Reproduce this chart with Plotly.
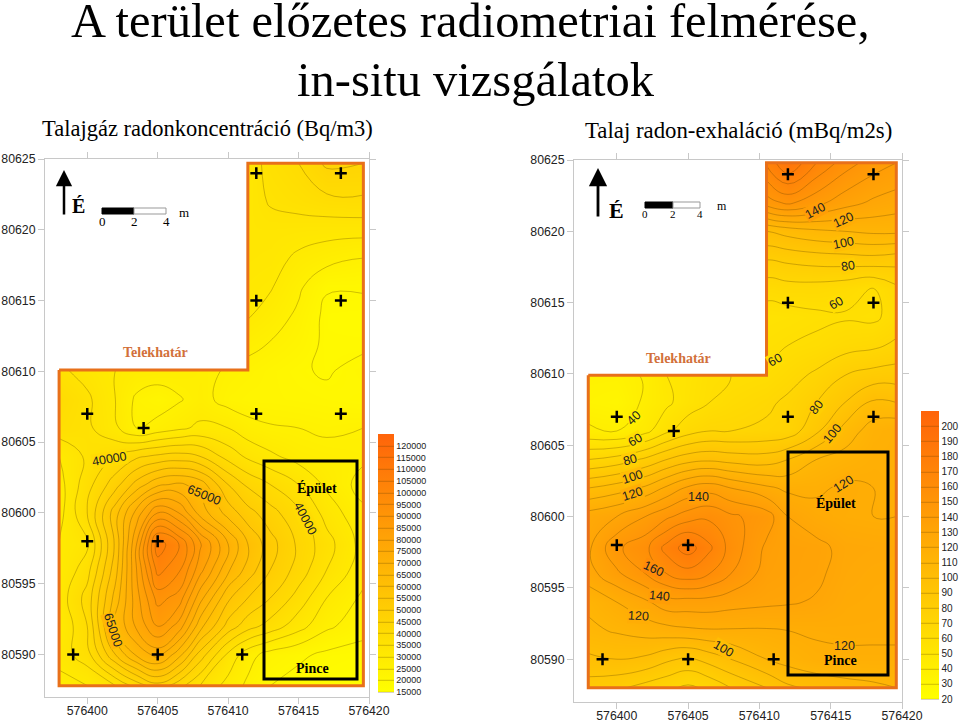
import plotly.graph_objects as go

W = 960
H = 724
nan = None

# --- left map: soil gas radon concentration (Bq/m3)
x1 = [576398, 576400, 576402, 576403.5, 576405, 576406.5, 576408, 576410, 576411.4, 576413, 576415, 576417, 576419.6]
y1 = [80587.8, 80590, 80592, 80594, 80596, 80597.8, 80600, 80602, 80604, 80606, 80608, 80610.1,
      80612, 80614, 80616, 80618, 80620, 80622, 80624.7]
z1 = [
    [28000, 30000, 35000, 42000, 48000, 42000, 35000, 28000, 24000, 20000, 18000, 17000, 16000],
    [32000, 38000, 55000, 66000, 72000, 62000, 48000, 34000, 27000, 23000, 21000, 19000, 18000],
    [30000, 40000, 65000, 76000, 85000, 78000, 62000, 48000, 42000, 38000, 32000, 26000, 22000],
    [32000, 42000, 62000, 78000, 92000, 88000, 72000, 56000, 50000, 45000, 38000, 30000, 24000],
    [30000, 38000, 58000, 80000, 102000, 96000, 82000, 66000, 58000, 50000, 43000, 35000, 27000],
    [30000, 34000, 56000, 80000, 108000, 100000, 86000, 70000, 60000, 52000, 44000, 37000, 28000],
    [28000, 40000, 58000, 72000, 85000, 80000, 68000, 58000, 52000, 47000, 41000, 33000, 26000],
    [28000, 38000, 48000, 57000, 64000, 66000, 63000, 50000, 44000, 40000, 35000, 29000, 23000],
    [30000, 36000, 40000, 44000, 46000, 47000, 45000, 38000, 34000, 31000, 28000, 27000, 26000],
    [38000, 36000, 31000, 25000, 27000, 29000, 31000, 30000, 27000, 25500, 25000, 24000, 25000],
    [40000, 36000, 30000, 24000, 22000, 24500, 27000, 23000, 22000, 22000, 21500, 21000, 20200],
    [36000, 33000, 30000, 28500, 28000, 27500, 26500, 24500, 23500, 22000, 20500, 19500, 21500],
    [nan, nan, nan, nan, nan, nan, nan, nan, 26500, 24800, 22500, 19000, 19000],
    [nan, nan, nan, nan, nan, nan, nan, nan, 30500, 28000, 24000, 18800, 18500],
    [nan, nan, nan, nan, nan, nan, nan, nan, 31500, 30500, 26000, 20500, 20500],
    [nan, nan, nan, nan, nan, nan, nan, nan, 32500, 32000, 29000, 27000, 25000],
    [nan, nan, nan, nan, nan, nan, nan, nan, 33000, 33000, 32500, 32000, 32000],
    [nan, nan, nan, nan, nan, nan, nan, nan, 32500, 35500, 37000, 38500, 39000],
    [nan, nan, nan, nan, nan, nan, nan, nan, 32000, 37000, 40000, 46000, 45000],
]
border1_x = [576398, 576411.4, 576411.4, 576419.6, 576419.6, 576398, 576398]
border1_y = [80610.1, 80610.1, 80624.7, 80624.7, 80587.8, 80587.8, 80610.1]
cutout1_x = [576397, 576411.4, 576411.4, 576397, 576397]
cutout1_y = [80610.1, 80610.1, 80625, 80625, 80610.1]
sites1_x = [576412, 576418, 576412, 576418, 576400, 576404, 576412, 576418, 576400, 576405, 576399, 576405, 576411]
sites1_y = [80624, 80624, 80615, 80615, 80607, 80606, 80607, 80607, 80598, 80598, 80590, 80590, 80590]
# text, x, y, angle
labels1 = [
    (40000, 576401.6, 80603.8, -10),
    (65000, 576408.3, 80601.3, 22),
    (40000, 576415.5, 80599.6, 62),
    (65000, 576401.8, 80591.7, 72),
]

# --- right map: soil radon exhalation (mBq/m2s)
x2 = [576398, 576400, 576402, 576403.5, 576405, 576406.5, 576408, 576410.5, 576412, 576414, 576416, 576418, 576419.6]
y2 = [80588, 80590, 80592, 80594, 80596, 80597.8, 80600, 80602, 80604, 80606, 80608, 80609.9,
      80612, 80614, 80616, 80618, 80620, 80622, 80624.8]
z2 = [
    [85, 82, 76, 72, 68, 72, 80, 90, 98, 102, 106, 108, 110],
    [98, 100, 98, 92, 88, 94, 100, 110, 114, 118, 118, 118, 118],
    [108, 111, 114, 116, 118, 119, 119, 119, 120, 121, 122, 122, 122],
    [112, 120, 128, 136, 136, 136, 134, 132, 131, 129, 124, 123, 122],
    [126, 138, 150, 160, 166, 160, 150, 136, 134, 132, 126, 124, 124],
    [128, 148, 157, 174, 185, 172, 156, 138, 134, 133, 127, 126, 125],
    [125, 130, 140, 148, 155, 158, 152, 145, 130, 124, 121, 120, 120],
    [100, 105, 112, 122, 132, 136, 130, 122, 118, 118, 122, 120, 118],
    [70, 74, 82, 90, 96, 98, 96, 95, 100, 110, 114, 118, 118],
    [42, 40, 47, 58, 66, 70, 70, 72, 74, 88, 104, 115, 118],
    [34, 32, 42, 48, 55, 60, 64, 68, 72, 80, 90, 102, 100],
    [36, 36, 41, 50, 54, 59, 60, 62, 66, 72, 80, 84, 85],
    [nan, nan, nan, nan, nan, nan, nan, 58, 60, 62, 66, 68, 72],
    [nan, nan, nan, nan, nan, nan, nan, 55, 56, 58, 59, 58, 64],
    [nan, nan, nan, nan, nan, nan, nan, 64, 66, 66, 64, 60, 68],
    [nan, nan, nan, nan, nan, nan, nan, 80, 82, 84, 85, 86, 84],
    [nan, nan, nan, nan, nan, nan, nan, 100, 104, 108, 110, 112, 112],
    [nan, nan, nan, nan, nan, nan, nan, 145, 152, 143, 134, 128, 125],
    [nan, nan, nan, nan, nan, nan, nan, 172, 190, 170, 155, 145, 140],
]
border2_x = [576398, 576410.5, 576410.5, 576419.6, 576419.6, 576398, 576398]
border2_y = [80609.9, 80609.9, 80624.8, 80624.8, 80588, 80588, 80609.9]
cutout2_x = [576397, 576410.5, 576410.5, 576397, 576397]
cutout2_y = [80609.9, 80609.9, 80625, 80625, 80609.9]
sites2_x = sites1_x
sites2_y = sites1_y
labels2 = [
    (140, 576413.9, 80621.4, -28),
    (120, 576415.9, 80620.8, -25),
    (100, 576415.9, 80619.2, -12),
    (80, 576416.2, 80617.6, -8),
    (60, 576415.4, 80615, -30),
    (60, 576411.1, 80611, -30),
    (40, 576401.2, 80606.9, -45),
    (60, 576401.3, 80605.4, -30),
    (80, 576400.9, 80604, -15),
    (100, 576401.1, 80602.8, -18),
    (120, 576401.1, 80601.6, -18),
    (140, 576405.7, 80601.4, 0),
    (160, 576402.6, 80596.3, 25),
    (140, 576403, 80594.4, 5),
    (120, 576401.5, 80593, 3),
    (100, 576407.5, 80590.7, 30),
    (120, 576415.9, 80602.3, -32),
    (120, 576416, 80590.9, 0),
    (80, 576414, 80607.7, -50),
    (100, 576415.1, 80605.8, -50),
]

colors = [[0, "#ffff00"], [1, "#ff640a"]]
serif = "Liberation Serif"
sans = "Liberation Sans"


def label_color(v, lo, hi):
    g = 255 - (255 - 100) * (v - lo) / (hi - lo)
    return "rgb(255,%d,%d)" % (g, 10 * (v - lo) / (hi - lo))


def fx(p):
    return p / W


def fy(p):
    return 1 - p / H


def text(s, px, py, size, color="black", bold=False, font=serif):
    if bold:
        s = "<b>" + s + "</b>"
    return dict(text=s, x=fx(px), y=fy(py), xref="paper", yref="paper", showarrow=False,
                xanchor="center", yanchor="middle", font=dict(size=size, color=color, family=font))


def rect(x0, y0, x1_, y1_, fill="rgba(0,0,0,0)", line="black", width=1):
    return dict(type="rect", xref="paper", yref="paper", x0=fx(x0), x1=fx(x1_), y0=fy(y0), y1=fy(y1_),
                fillcolor=fill, line=dict(color=line, width=width))


def contour(x, y, z, xa, ya, lo, hi, step, top, bar_x, bar_y, bar_h, bar_w, ticks, size):
    return go.Contour(
        x=x, y=y, z=z, xaxis=xa, yaxis=ya, colorscale=colors, zmin=lo, zmax=top,
        contours=dict(coloring="heatmap", start=lo, end=hi, size=step),
        line=dict(color="rgba(90,60,0,0.5)", width=0.6, smoothing=1.3),
        hoverongaps=False,
        colorbar=dict(x=fx(bar_x), xanchor="left", y=fy(bar_y), yanchor="top", len=bar_h, lenmode="pixels",
                      thickness=bar_w, thicknessmode="pixels", xpad=0, ypad=0, outlinewidth=0,
                      tickvals=ticks, tickfont=dict(size=size, family=sans, color="#222222"),
                      ticks="", tickformat="d"),
    )


fig = go.Figure()
fig.add_trace(contour(x1, y1, z1, "x", "y", 15000, 120000, 5000, 125000, 378, 434, 258, 16,
                      list(range(15000, 120001, 5000)), 9))
fig.add_trace(contour(x2, y2, z2, "x2", "y2", 20, 200, 10, 210, 921, 411, 288, 18,
                      list(range(20, 201, 10)), 10))

for bx, by, cx, cy, sx, sy, xa, ya in [
    (border1_x, border1_y, cutout1_x, cutout1_y, sites1_x, sites1_y, "x", "y"),
    (border2_x, border2_y, cutout2_x, cutout2_y, sites2_x, sites2_y, "x2", "y2"),
]:
    # the smoothed fill bleeds a little past the notch, so paint it white again
    fig.add_trace(go.Scatter(x=cx, y=cy, xaxis=xa, yaxis=ya, mode="lines", fill="toself", fillcolor="white",
                             hoverinfo="skip", line=dict(color="white", width=0)))
    fig.add_trace(go.Scatter(x=bx, y=by, xaxis=xa, yaxis=ya, mode="lines", hoverinfo="skip",
                             line=dict(color="#e8701a", width=3)))
    fig.add_trace(go.Scatter(x=sx, y=sy, xaxis=xa, yaxis=ya, mode="markers",
                             marker=dict(symbol="cross-thin", size=8.5, line=dict(color="black", width=2.5))))

axis = dict(showgrid=False, zeroline=False, showline=True, linecolor="#c8c8c8", mirror="ticks", ticks="outside",
            ticklen=6, tickcolor="#c8c8c8", tickformat="d", tickfont=dict(family=sans, size=12.3, color="#222222"))

fig.update_layout(
    width=W, height=H, margin=dict(l=0, r=0, t=0, b=0, autoexpand=False), paper_bgcolor="white",
    plot_bgcolor="white", showlegend=False,
    xaxis=dict(axis, domain=[fx(45), fx(369)], range=[576397, 576420], dtick=5, tick0=576400, anchor="y",
               ticklabelstandoff=-4),
    yaxis=dict(axis, domain=[fy(697), fy(159)], range=[80587, 80625], dtick=5, tick0=80590, anchor="x"),
    xaxis2=dict(axis, domain=[fx(574), fx(902)], range=[576397, 576420], dtick=5, tick0=576400, anchor="y2",
                ticklabelstandoff=-4),
    yaxis2=dict(axis, domain=[fy(702), fy(160)], range=[80587, 80625], dtick=5, tick0=80590, anchor="x2"),
)

notes = [
    text("A terület előzetes radiometriai felmérése,", 470, 20, 48.5),
    text("in-situ vizsgálatok", 476, 80, 48.5),
    text("Talajgáz radonkoncentráció (Bq/m3)", 207, 128, 22.5),
    text("Talaj radon-exhaláció (mBq/m2s)", 738, 130, 22.8),
    text("Telekhatár", 155, 352, 14, "#d2703a", True),
    text("Telekhatár", 678, 358, 14, "#d2703a", True),
    text("Épület", 317, 488, 14, bold=True),
    text("Pince", 312, 668, 14, bold=True),
    text("Épület", 836, 503, 14, bold=True),
    text("Pince", 840, 660, 14, bold=True),
    text("É", 78, 206, 20, bold=True),
    text("É", 616, 210, 22, bold=True),
    text("0", 102, 222, 13), text("2", 134, 222, 13), text("4", 166, 222, 13), text("m", 184, 212, 13),
    text("0", 645, 214, 11), text("2", 673, 214, 11), text("4", 700, 214, 11), text("m", 722, 206, 12),
    dict(x=fx(64), y=fy(170), ax=0, ay=46, xref="paper", yref="paper",
         text="", showarrow=True, arrowhead=2, arrowsize=1.3, arrowwidth=2.5, arrowcolor="black"),
    dict(x=fx(598), y=fy(168), ax=0, ay=50, xref="paper", yref="paper",
         text="", showarrow=True, arrowhead=2, arrowsize=1.3, arrowwidth=2.8, arrowcolor="black"),
]
for v, x, y, a in labels1:
    notes.append(dict(text=str(v), x=x, y=y, xref="x", yref="y", showarrow=False, textangle=a, borderpad=0,
                      bgcolor=label_color(v, 15000, 125000), font=dict(size=12.5, family=sans, color="#222222")))
for v, x, y, a in labels2:
    notes.append(dict(text=str(v), x=x, y=y, xref="x2", yref="y2", showarrow=False, textangle=a, borderpad=0,
                      bgcolor=label_color(v, 20, 210), font=dict(size=12.5, family=sans, color="#222222")))
fig.update_layout(annotations=notes)

fig.update_layout(shapes=[
    rect(264, 461, 357, 679, width=3),
    rect(788, 452, 888, 675, width=3),
    rect(102, 208, 134, 214, fill="black"),
    rect(134, 208, 166, 214, fill="white", line="#999999"),
    rect(645, 202, 673, 208, fill="black"),
    rect(673, 202, 700, 208, fill="white", line="#999999"),
])

# the browser's default body margin would push the 960x724 figure off the window
fig.write_html("out.html", config={"displayModeBar": False},
               post_script="document.body.style.margin = '0';")
